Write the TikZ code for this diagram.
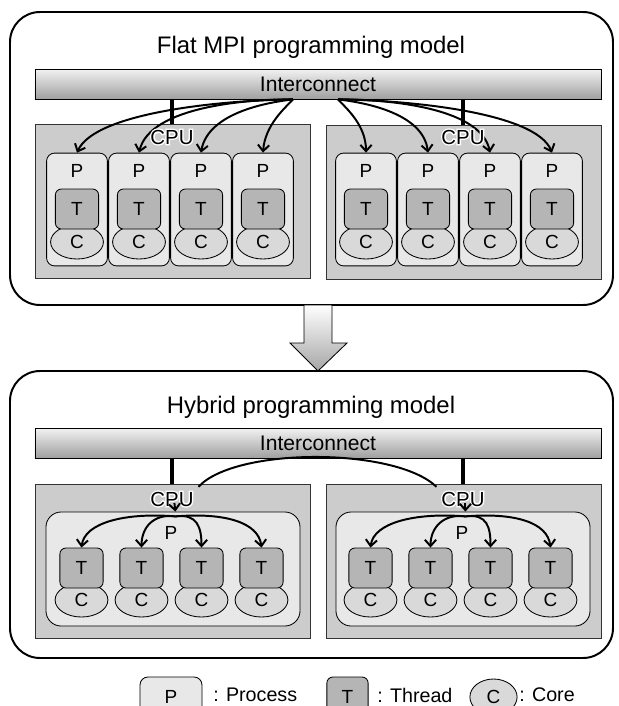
\documentclass[tikz,border=0pt]{standalone}
\usepackage{fontspec}
\setmainfont{Liberation Sans}
\newfontfamily\gruesa[FakeBold=14]{Liberation Sans}
\usetikzlibrary{arrows.meta, shapes.geometric, positioning}

\definecolor{grisCPU}{gray}{0.80}
\definecolor{grisP}{gray}{0.91}
\definecolor{grisT}{gray}{0.71}
\definecolor{grisC}{gray}{0.85}

% texto con borde blanco
\newcommand{\halo}[1]{\leavevmode\rlap{\gruesa\color{white}#1}#1}

\pgfdeclarelayer{frente}
\pgfsetlayers{main,frente}

\tikzset{
  marco/.style={draw, line width=1.4pt, rounded corners=0.75cm},
  bus/.style={draw, line width=0.6pt, top color=gray!10, bottom color=gray!75,
    minimum width=14.15cm, minimum height=0.75cm, font=\fontsize{15}{17}\selectfont},
  cpucaja/.style={draw=black!80, line width=0.5pt, fill=grisCPU,
    minimum width=6.875cm, minimum height=3.85cm},
  proc/.style={draw, line width=0.6pt, fill=grisP, rounded corners=0.2cm,
    minimum width=1.52cm, minimum height=2.82cm},
  proch/.style={proc, rounded corners=0.38cm, minimum width=6.35cm, minimum height=2.85cm},
  hilo/.style={draw, line width=0.6pt, fill=grisT, rounded corners=0.15cm,
    minimum width=1.08cm, minimum height=1cm},
  nucleo/.style={draw, line width=0.6pt, fill=grisC, ellipse, inner sep=0pt,
    minimum width=1.32cm, minimum height=0.85cm},
  cpulbl/.style={font=\fontsize{14.5}{16}\selectfont},
  enlace/.style={line width=2.2pt},
  flecha/.style={line width=1.4pt, -{Straight Barb[length=4.5pt, width=8pt]}},
  linea/.style={line width=1.4pt},
  leyenda/.style={font=\fontsize{14}{16}\selectfont, anchor=west, inner sep=0pt},
}

\begin{document}
\begin{tikzpicture}[x=0.025cm, y=-0.025cm, font=\fontsize{13.5}{15}\selectfont]
\useasboundingbox (0,0) rectangle (619,706);

% Marcos de los dos modelos
\draw[marco] (10,12) rectangle (613,305);
\draw[marco] (10,371) rectangle (613,658);
\node[font=\fontsize{17}{20}\selectfont] (titA) at (311,47) {Flat MPI programming model};
\node[font=\fontsize{17}{20}\selectfont] (titB) at (311,407) {Hybrid programming model};

% Flecha grande entre modelos
\draw[line width=0.6pt, top color=white, bottom color=gray!70]
  (304,305) -- (332,305) -- (332,343) -- (347,343) -- (318,371)
  -- (290,343) -- (304,343) -- cycle;

% ---- Modelo MPI plano ----
\node[bus] (busA) at (318,84) {Interconnect};
\node[cpucaja] (cpuA1) at (172.5,201.5) {};
\node[cpucaja] (cpuA2) at (463.5,202) {};

\foreach \g/\xo in {1/77, 2/366}{
  \foreach \i in {1,...,4}{
    \pgfmathsetmacro{\cx}{\xo+62*(\i-1)}
    \node[proc] (pA\g\i) at (\cx,209.5) {};
    \node (lpA\g\i) at (\cx,171) {P};
    \node[nucleo] (cA\g\i) at (\cx,242) {C};
    \node[hilo] (tA\g\i) at (\cx,209) {T};
  }
}

\begin{pgfonlayer}{frente}
  \node[cpulbl] (lcA1) at (172,137) {\halo{CPU}};
  \node[cpulbl] (lcA2) at (463,137) {\halo{CPU}};
\end{pgfonlayer}
\draw[enlace] (lcA1 |- busA.south) -- (lcA1 |- cpuA1.north);
\draw[enlace] (lcA2 |- busA.south) -- (lcA2 |- cpuA2.north);

\coordinate (sA1) at ([xshift=-0.625cm]busA.south);
\coordinate (sA2) at ([xshift=0.5cm]busA.south);

% Mensajes hacia cada proceso
\foreach \d/\s/\ax/\ay/\bx/\by in {
  pA11/sA1/225/100/95/112, pA12/sA1/250/99/150/106,
  pA13/sA1/270/102/208/112, pA14/sA1/285/108/265/125,
  pA21/sA2/346/108/366/125, pA22/sA2/361/102/423/112,
  pA23/sA2/381/99/481/106, pA24/sA2/406/100/536/112}{
  \draw[flecha] (\s) .. controls (\ax,\ay) and (\bx,\by) .. (\d.north);
}

% ---- Modelo hibrido ----
\node[bus] (busB) at (318,443) {Interconnect};
\node[cpucaja] (cpuB1) at (172.5,561) {};
\node[cpucaja] (cpuB2) at (463.5,561) {};
\node[proch] (phB1) at (173,569) {};
\node[proch] (phB2) at (463,569) {};
\node (lpB1) at (171,533) {P};
\node (lpB2) at (462,533) {P};

\foreach \g/\xo in {1/81.5, 2/370.5}{
  \foreach \i in {1,...,4}{
    \pgfmathsetmacro{\cx}{\xo+60*(\i-1)}
    \node[nucleo] (cB\g\i) at (\cx,600) {C};
    \node[hilo] (tB\g\i) at (\cx,568) {T};
  }
}

\begin{pgfonlayer}{frente}
  \node[cpulbl] (lcB1) at (172,499) {\halo{CPU}};
  \node[cpulbl] (lcB2) at (463,499) {\halo{CPU}};
\end{pgfonlayer}
\draw[enlace] (lcB1 |- busB.south) -- (lcB1 |- cpuB1.north);
\draw[enlace] (lcB2 |- busB.south) -- (lcB2 |- cpuB2.north);

% Comunicacion entre procesos
\draw[linea] (lcB1.north east) .. controls (235,447) and (395,447) .. (lcB2.north west);

% Hilos dentro de cada proceso
\foreach \g in {1,2}{
  \begin{pgfonlayer}{frente}
    \draw[flecha] ([xshift=0.06cm,yshift=-0.1cm]lcB\g.center) -- ([xshift=0.06cm]phB\g.north);
  \end{pgfonlayer}
  \coordinate (fB\g) at ([xshift=0.06cm,yshift=-0.12cm]phB\g.north);
  \draw[flecha] (fB\g) .. controls +(-50,-4) and +(3,-25) .. (tB\g1.north);
  \draw[flecha] (fB\g) .. controls +(-22,-3) and +(0,-20) .. (tB\g2.north);
  \draw[flecha] (fB\g) .. controls +(22,-3) and +(0,-20) .. (tB\g3.north);
  \draw[flecha] (fB\g) .. controls +(50,-4) and +(-3,-25) .. (tB\g4.north);
}

% Leyenda
\node[proc, minimum height=1cm, minimum width=1.55cm] (legP) at (171,697) {P};
\node[leyenda] (txP) at (213,695) {: Process};
\node[hilo, minimum width=1.03cm] (legT) at (347.5,697) {T};
\node[leyenda] (txT) at (377,695) {: Thread};
\node[nucleo, minimum width=1.18cm, minimum height=0.9cm] (legC) at (493.5,697) {C};
\node[leyenda] (txC) at (519,695) {: Core};

\end{tikzpicture}
\end{document}
